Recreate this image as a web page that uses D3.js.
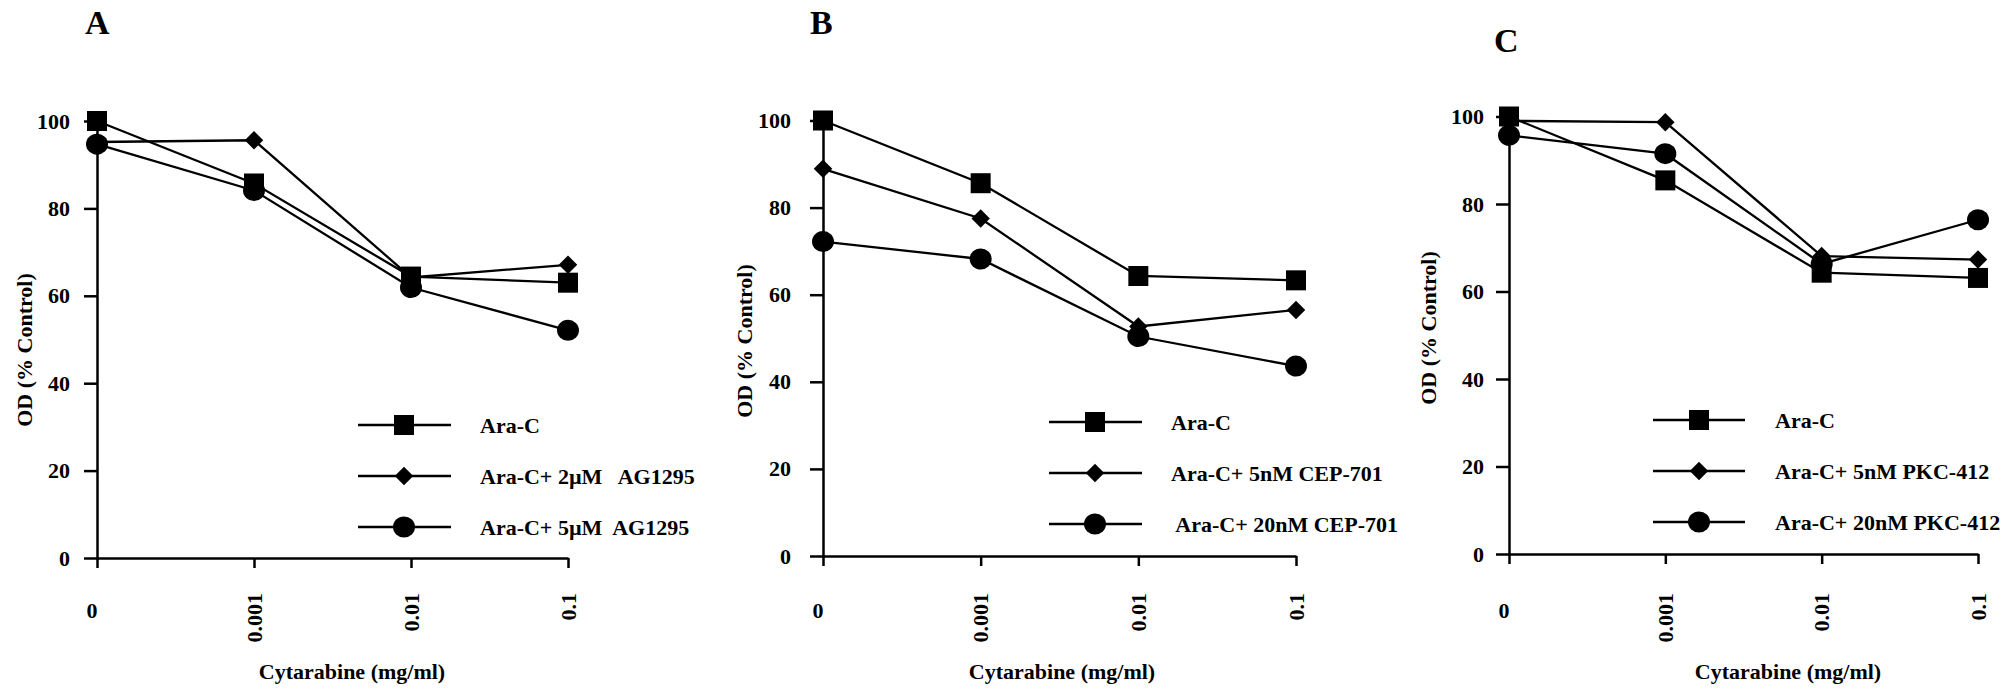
<!DOCTYPE html>
<html>
<head>
<meta charset="utf-8">
<script src="https://cdn.jsdelivr.net/npm/d3@7"></script>
<style>
  html, body { margin: 0; padding: 0; background: #fff; }
  svg text { font-family: "Liberation Serif", "Times New Roman", serif; font-weight: bold; fill: #000; white-space: pre; }
</style>
</head>
<body>
<svg id="fig" width="2010" height="691"></svg>
<script>
// Cytarabine doses (mg/ml) and OD axis ticks
const doses = ["0", "0.001", "0.01", "0.1"];
const yTicks = [0, 20, 40, 60, 80, 100];

// Panel A: Ara-C with AG1295
const namesA = ["Ara-C", "Ara-C+ 2µM   AG1295", "Ara-C+ 5µM  AG1295"];
const araC_A = [100, 85.7, 64.4, 63.0];
const ag2_A  = [95.2, 95.6, 64.2, 67.1];
const ag5_A  = [94.7, 84.1, 61.9, 52.1];

// Panel B: Ara-C with CEP-701
const namesB = ["Ara-C", "Ara-C+ 5nM CEP-701", " Ara-C+ 20nM CEP-701"];
const araC_B  = [100, 85.6, 64.3, 63.3];
const cep5_B  = [88.9, 77.5, 52.7, 56.5];
const cep20_B = [72.2, 68.2, 50.4, 43.6];

// Panel C: Ara-C with PKC-412
const namesC = ["Ara-C", "Ara-C+ 5nM PKC-412", "Ara-C+ 20nM PKC-412"];
const araC_C  = [100, 85.4, 64.3, 63.1];
const pkc5_C  = [99.0, 98.7, 68.1, 67.3];
const pkc20_C = [95.7, 91.5, 66.3, 76.4];

const markers = ["square", "diamond", "circle"];

const panels = [
  { letter: "A", names: namesA, series: [araC_A, ag2_A, ag5_A],
    x0: 97, x3: 568, y0: 558, y100: 121, pad: 14,
    lx: 85, ly: 34, ytx: 24, yty: 350, xtx: 352, xty: 679,
    leg: { x1: 358, x2: 451, xm: 404, ys: [425, 476, 527], tx: 480 } },
  { letter: "B", names: namesB, series: [araC_B, cep5_B, cep20_B],
    x0: 823, x3: 1296, y0: 556, y100: 120.5, pad: 19,
    lx: 810, ly: 34, ytx: 744, yty: 341, xtx: 1062, xty: 679,
    leg: { x1: 1049, x2: 1142, xm: 1095, ys: [422, 473, 524], tx: 1171 } },
  { letter: "C", names: namesC, series: [araC_C, pkc5_C, pkc20_C],
    x0: 1509, x3: 1978, y0: 554, y100: 116.5, pad: 12,
    lx: 1494, ly: 52, ytx: 1428, yty: 328, xtx: 1788, xty: 679,
    leg: { x1: 1653, x2: 1745, xm: 1699, ys: [420, 471, 522], tx: 1775 } }
];

const svg = d3.select("#fig");
const FS = "22px";

function drawMarker(g, kind, x, y) {
  if (kind === "square") {
    g.append("path").attr("d", d3.symbol(d3.symbolSquare, 400)())
      .attr("transform", `translate(${x},${y})`).attr("fill", "#000");
  } else if (kind === "diamond") {
    g.append("path").attr("d", d3.symbol(d3.symbolSquare, 170)())
      .attr("transform", `translate(${x},${y}) rotate(45)`).attr("fill", "#000");
  } else {
    g.append("ellipse").attr("cx", x).attr("cy", y).attr("rx", 11).attr("ry", 10.5)
      .attr("fill", "#000");
  }
}

panels.forEach(p => {
  const g = svg.append("g");
  const x = d3.scalePoint().domain(doses).range([p.x0, p.x3]);
  const y = d3.scaleLinear().domain([0, 100]).range([p.y0, p.y100]);

  // panel letter
  g.append("text").attr("x", p.lx).attr("y", p.ly).style("font-size", "34px").text(p.letter);

  // y axis
  const ya = g.append("g").attr("transform", `translate(${p.x0},0)`)
    .call(d3.axisLeft(y).tickValues(yTicks).tickSize(13).tickPadding(p.pad).tickSizeOuter(0));
  ya.select(".domain").attr("stroke-width", 2.5);
  ya.selectAll(".tick line").attr("stroke-width", 2.5);
  ya.selectAll(".tick text").style("font-size", FS)
    .style("font-family", "'Liberation Serif', serif").style("font-weight", "bold");

  // x axis (line from the first to the last dose, ticks pointing down)
  const xa = g.append("g").attr("transform", `translate(0,${p.y0})`)
    .call(d3.axisBottom(x).tickSize(10).tickSizeOuter(0).tickFormat(""));
  xa.select(".domain").attr("stroke-width", 2.5);
  xa.selectAll(".tick line").attr("stroke-width", 2.5);

  // dose labels: the zero upright, the others rotated
  doses.forEach((d, i) => {
    if (i === 0) {
      g.append("text").attr("x", x(d) - 5).attr("y", 618).attr("text-anchor", "middle")
        .style("font-size", FS).text(d);
    } else {
      g.append("text").attr("transform", `translate(${x(d)},593) rotate(-90)`)
        .attr("text-anchor", "end").attr("dy", "0.35em")
        .style("font-size", FS).text(d);
    }
  });

  // axis titles
  g.append("text").attr("transform", `translate(${p.ytx},${p.yty}) rotate(-90)`)
    .attr("text-anchor", "middle").attr("dy", "0.35em").style("font-size", FS)
    .text("OD (% Control)");
  g.append("text").attr("x", p.xtx).attr("y", p.xty).attr("text-anchor", "middle")
    .style("font-size", FS).text("Cytarabine (mg/ml)");

  // series lines and markers
  const line = d3.line().x((v, i) => x(doses[i])).y(v => y(v));
  p.series.forEach((vals, s) => {
    g.append("path").datum(vals).attr("d", line)
      .attr("fill", "none").attr("stroke", "#000").attr("stroke-width", 2.3);
    vals.forEach((v, i) => drawMarker(g, markers[s], x(doses[i]), y(v)));
  });

  // legend
  p.names.forEach((name, s) => {
    const ly = p.leg.ys[s];
    g.append("line").attr("x1", p.leg.x1).attr("x2", p.leg.x2).attr("y1", ly).attr("y2", ly)
      .attr("stroke", "#000").attr("stroke-width", 2.3);
    drawMarker(g, markers[s], p.leg.xm, ly);
    g.append("text").attr("x", p.leg.tx).attr("y", ly).attr("dy", "0.35em")
      .style("font-size", FS).text(name);
  });
});
</script>
</body>
</html>
